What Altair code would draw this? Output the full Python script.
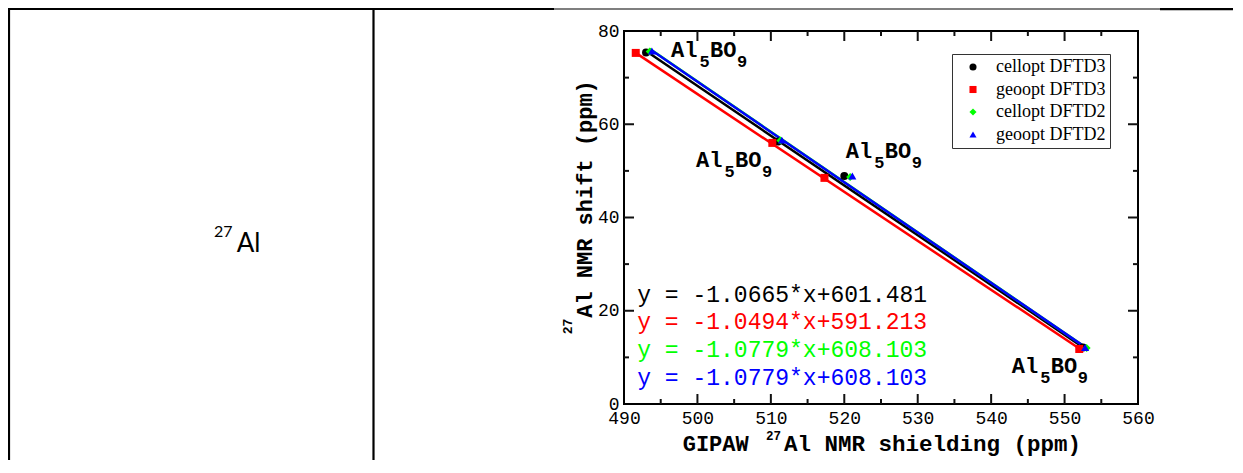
import altair as alt
import pandas as pd

# ---------------- data ----------------
series = ["cellopt DFTD3", "geoopt DFTD3", "cellopt DFTD2", "geoopt DFTD2"]
colors = ["#000000", "#ff0000", "#00ff00", "#0000ff"]
shapes = ["circle", "square", "diamond", "triangle-up"]

# GIPAW 27Al shielding (x) and experimental shift (y)
x_cellopt_d3 = [493.0, 511.0, 520.0, 552.5]
y_cellopt_d3 = [75.4, 56.3, 48.9, 12.1]
x_geoopt_d3 = [491.6, 510.2, 517.3, 552.0]
y_geoopt_d3 = [75.3, 56.0, 48.5, 11.8]
x_cellopt_d2 = [493.5, 511.3, 520.8, 553.0]
y_cellopt_d2 = [75.6, 56.5, 48.7, 12.0]
x_geoopt_d2 = [493.8, 511.5, 521.1, 552.8]
y_geoopt_d2 = [75.7, 56.6, 48.9, 12.1]

# fitted lines (drawn order: red, black, green, blue)
fit_series = ["geoopt DFTD3", "cellopt DFTD3", "cellopt DFTD2", "geoopt DFTD2"]
fit_colors = ["#ff0000", "#000000", "#00ff00", "#0000ff"]
fit_x1 = [491.6, 493.0, 493.5, 493.8]
fit_y1 = [75.3, 75.7, 76.2, 75.8]
fit_x2 = [552.0, 552.5, 553.0, 552.8]
fit_y2 = [11.9, 12.2, 12.0, 12.2]

# regression equations
eq_texts = ["y = -1.0665*x+601.481", "y = -1.0494*x+591.213",
            "y = -1.0779*x+608.103", "y = -1.0779*x+608.103"]
eq_colors = ["#000000", "#ff0000", "#00ff00", "#0000ff"]
eq_x = [491.8, 491.8, 491.8, 491.8]
eq_y = [21.9, 16.1, 10.1, 4.1]

# compound labels
ann_x = [496.4, 499.8, 520.2, 542.8]
ann_y = [74.5, 50.9, 52.8, 6.65]

# axis ticks
x_major = [490, 500, 510, 520, 530, 540, 550, 560]
x_minor = [495, 505, 515, 525, 535, 545, 555]
y_major = [0, 20, 40, 60, 80]
y_minor = [10, 30, 50, 70]

# ---------------- tables ----------------
pts = pd.DataFrame({
    "series": [series[0]] * 4 + [series[1]] * 4 + [series[2]] * 4 + [series[3]] * 4,
    "x": x_cellopt_d3 + x_geoopt_d3 + x_cellopt_d2 + x_geoopt_d2,
    "y": y_cellopt_d3 + y_geoopt_d3 + y_cellopt_d2 + y_geoopt_d2,
})
fits = pd.DataFrame({"series": fit_series, "c": fit_colors,
                     "x1": fit_x1, "y1": fit_y1, "x2": fit_x2, "y2": fit_y2})
eqs = pd.DataFrame({"t": eq_texts, "c": eq_colors, "x": eq_x, "y": eq_y})
anns = pd.DataFrame({"x": ann_x, "y": ann_y})
one = pd.DataFrame({"k": [0]})

W, H = 514, 373
PAD = {"left": 616, "top": 23, "right": 95, "bottom": 56}
MONO = "Liberation Mono"

xs = alt.Scale(domain=[490, 560], nice=False, zero=False)
ys = alt.Scale(domain=[0, 80], nice=False, zero=False)

legend = alt.Legend(orient="none", legendX=328, legendY=23, title=None,
                    labelFont="Liberation Serif", labelFontSize=18, labelColor="black",
                    symbolSize=50, symbolStrokeWidth=0, padding=4, rowPadding=4.5,
                    labelOffset=14, symbolOffset=8, strokeColor="#333333",
                    fillColor="white", cornerRadius=0)

xaxis = alt.Axis(values=x_major, title=None, ticks=False, domain=False, grid=False,
                 labelFont=MONO, labelFontSize=18, labelColor="black",
                 labelPadding=5, labelFlush=False, labelOverlap=False)
yaxis = alt.Axis(values=y_major, title=None, ticks=False, domain=False, grid=False,
                 labelFont=MONO, labelFontSize=18, labelColor="black",
                 labelPadding=5, labelFlush=False, labelOverlap=False)

lines = alt.Chart(fits).mark_rule(strokeWidth=2.5).encode(
    x=alt.X("x1:Q", scale=xs, axis=xaxis),
    y=alt.Y("y1:Q", scale=ys, axis=yaxis),
    x2="x2:Q", y2="y2:Q",
    stroke=alt.Stroke("c:N", scale=None),
)

points = alt.Chart(pts).mark_point(filled=True, size=64, opacity=1).encode(
    x="x:Q", y="y:Q",
    color=alt.Color("series:N", scale=alt.Scale(domain=series, range=colors), legend=legend),
    shape=alt.Shape("series:N", scale=alt.Scale(domain=series, range=shapes), legend=legend),
)

eq_layer = alt.Chart(eqs).mark_text(font=MONO, fontSize=23, align="left",
                                    baseline="alphabetic").encode(
    x="x:Q", y="y:Q", text="t:N", color=alt.Color("c:N", scale=None))

def ann_piece(s, dx, dy, size):
    return alt.Chart(anns).mark_text(font=MONO, fontSize=size, fontWeight="bold",
                                     align="left", baseline="alphabetic", dx=dx, dy=dy,
                                     color="black").encode(
        x="x:Q", y="y:Q", text=alt.value(s))

ann_layers = [ann_piece("Al", 0, 0, 22), ann_piece("5", 28.5, 10, 17),
              ann_piece("BO", 39, 0, 22), ann_piece("9", 66, 10, 17)]

def tick_x(vals, y1, y2):
    return alt.Chart(pd.DataFrame({"v": vals})).mark_rule(color="#111111", strokeWidth=2).encode(
        x="v:Q", y=alt.value(y1), y2=alt.value(y2))

def tick_y(vals, x1, x2):
    return alt.Chart(pd.DataFrame({"v": vals})).mark_rule(color="#111111", strokeWidth=2).encode(
        y="v:Q", x=alt.value(x1), x2=alt.value(x2))

ticks = [
    tick_x(x_major[1:-1], H, H - 10), tick_x(x_minor, H, H - 5),
    tick_x(x_major[1:-1], 0, 10), tick_x(x_minor, 0, 5),
    tick_y(y_major[1:-1], 0, 10), tick_y(y_minor, 0, 5),
    tick_y(y_major[1:-1], W, W - 10), tick_y(y_minor, W, W - 5),
]

def txt(s, x, y, size, font=MONO, bold=False, angle=0, align="left"):
    kw = dict(font=font, fontSize=size, align=align, baseline="alphabetic", color="black")
    if bold:
        kw["fontWeight"] = "bold"
    if angle:
        kw["angle"] = angle
    return alt.Chart(one).mark_text(**kw).encode(
        x=alt.value(x), y=alt.value(y), text=alt.value(s))

titles = [
    txt("GIPAW", 58.7, 419.7, 22, bold=True),
    txt("27", 142, 408.5, 12.5, bold=True),
    txt("Al NMR shielding (ppm)", 160, 419.7, 22.5, bold=True),
    txt("Al NMR shift (ppm)", -32, 168, 22, bold=True, angle=270, align="center"),
    txt("27", -52, 295.5, 13, bold=True, angle=270, align="center"),
    txt("27", -410, 206, 16, font="Lato"),
    txt("Al", -387.3, 220.7, 26, font="Lato"),
]

def rule(x1, x2, y1, y2, w):
    return alt.Chart(one).mark_rule(color="black", strokeWidth=w).encode(
        x=alt.value(x1), x2=alt.value(x2), y=alt.value(y1), y2=alt.value(y2))

BOTTOM = H + PAD["bottom"]
table = [
    rule(-616, -70, -22, -22, 2.2),
    rule(-70, 536, -22, -22, 1.2),
    rule(536, 609, -22, -22, 2.5),
    rule(-615, -615, -23, BOTTOM, 2.2),
    rule(-250.5, -250.5, -23, BOTTOM, 2.2),
]

chart = alt.layer(
    lines, *table, *ticks, eq_layer, *ann_layers, points, *titles
).properties(
    width=W, height=H,
    autosize=alt.AutoSizeParams(type="none"),
    padding=PAD,
).configure_view(stroke="black", strokeWidth=2)

chart.save("out.html", embed_options={"renderer": "svg", "actions": False})
